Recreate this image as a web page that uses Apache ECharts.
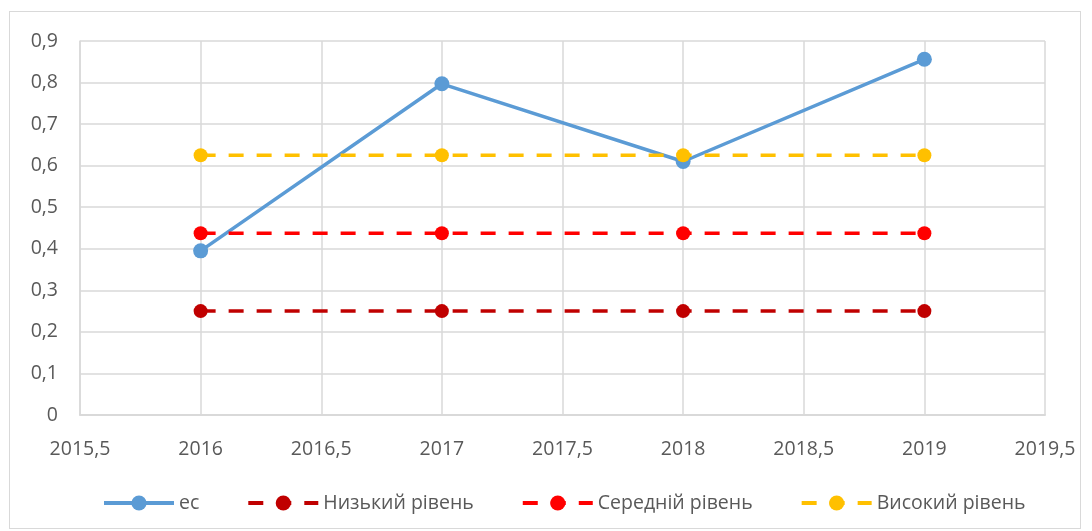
<!DOCTYPE html>
<html><head><meta charset="utf-8">
<script src="https://cdn.jsdelivr.net/npm/echarts@6/dist/echarts.min.js"></script>
<style>
html,body{margin:0;padding:0;background:#fff;}
#frame{position:absolute;left:9px;top:11px;width:1072px;height:518px;border:1px solid #d9d9d9;box-sizing:border-box;}
#c{position:absolute;left:0;top:0;width:1092px;height:531px;}
</style></head>
<body><div id="frame"></div><div id="c"></div>
<script>
const years = [2016, 2017, 2018, 2019];
const esValues = [0.395, 0.797, 0.61, 0.856];
const lowValues = [0.25, 0.25, 0.25, 0.25];
const midValues = [0.4375, 0.4375, 0.4375, 0.4375];
const highValues = [0.625, 0.625, 0.625, 0.625];
const seriesNames = ['ес', 'Низький рівень', 'Середній рівень', 'Високий рівень'];

const fmt = v => String(+v.toFixed(2)).replace('.', ',');
const pairs = arr => years.map((y, i) => [y, arr[i]]);
const font = 'Open Sans';

function lineSeries(name, data, color, dashed, size) {
  return {
    name, type: 'line', data: pairs(data),
    symbol: 'circle', symbolSize: size,
    lineStyle: { color, width: 3.5, type: dashed ? [15, 13] : 'solid' },
    itemStyle: { color },
    emphasis: { disabled: true }
  };
}

const chart = echarts.init(document.getElementById('c'));
chart.setOption({
  animation: false,
  textStyle: { fontFamily: font },
  grid: { left: 80, right: 47, top: 41, bottom: 116 },
  xAxis: {
    type: 'value', min: 2015.5, max: 2019.5, interval: 0.5,
    axisLabel: { formatter: fmt, color: '#595959', fontSize: 19.5, margin: 24, fontFamily: font },
    axisLine: { show: true, lineStyle: { color: '#d9d9d9', width: 2 } },
    axisTick: { show: false },
    splitLine: { show: true, lineStyle: { color: '#d9d9d9', width: 1.5 } }
  },
  yAxis: {
    type: 'value', min: 0, max: 0.9, interval: 0.1,
    axisLabel: { formatter: fmt, color: '#595959', fontSize: 19.5, margin: 22, fontFamily: font },
    axisLine: { show: true, lineStyle: { color: '#d9d9d9', width: 1.5 } },
    axisTick: { show: false },
    splitLine: { show: true, lineStyle: { color: '#d9d9d9', width: 1.5 } }
  },
  legend: {
    bottom: 13, left: 97, itemWidth: 70, itemHeight: 19, itemGap: 47,
    textStyle: { color: '#595959', fontSize: 19.5, fontFamily: font },
    lineStyle: { width: 4 },
    data: seriesNames
  },
  series: [
    lineSeries(seriesNames[0], esValues, '#5b9bd5', false, 15),
    lineSeries(seriesNames[1], lowValues, '#c00000', true, 14),
    lineSeries(seriesNames[2], midValues, '#ff0000', true, 14),
    lineSeries(seriesNames[3], highValues, '#ffc000', true, 14)
  ]
});
</script></body></html>
